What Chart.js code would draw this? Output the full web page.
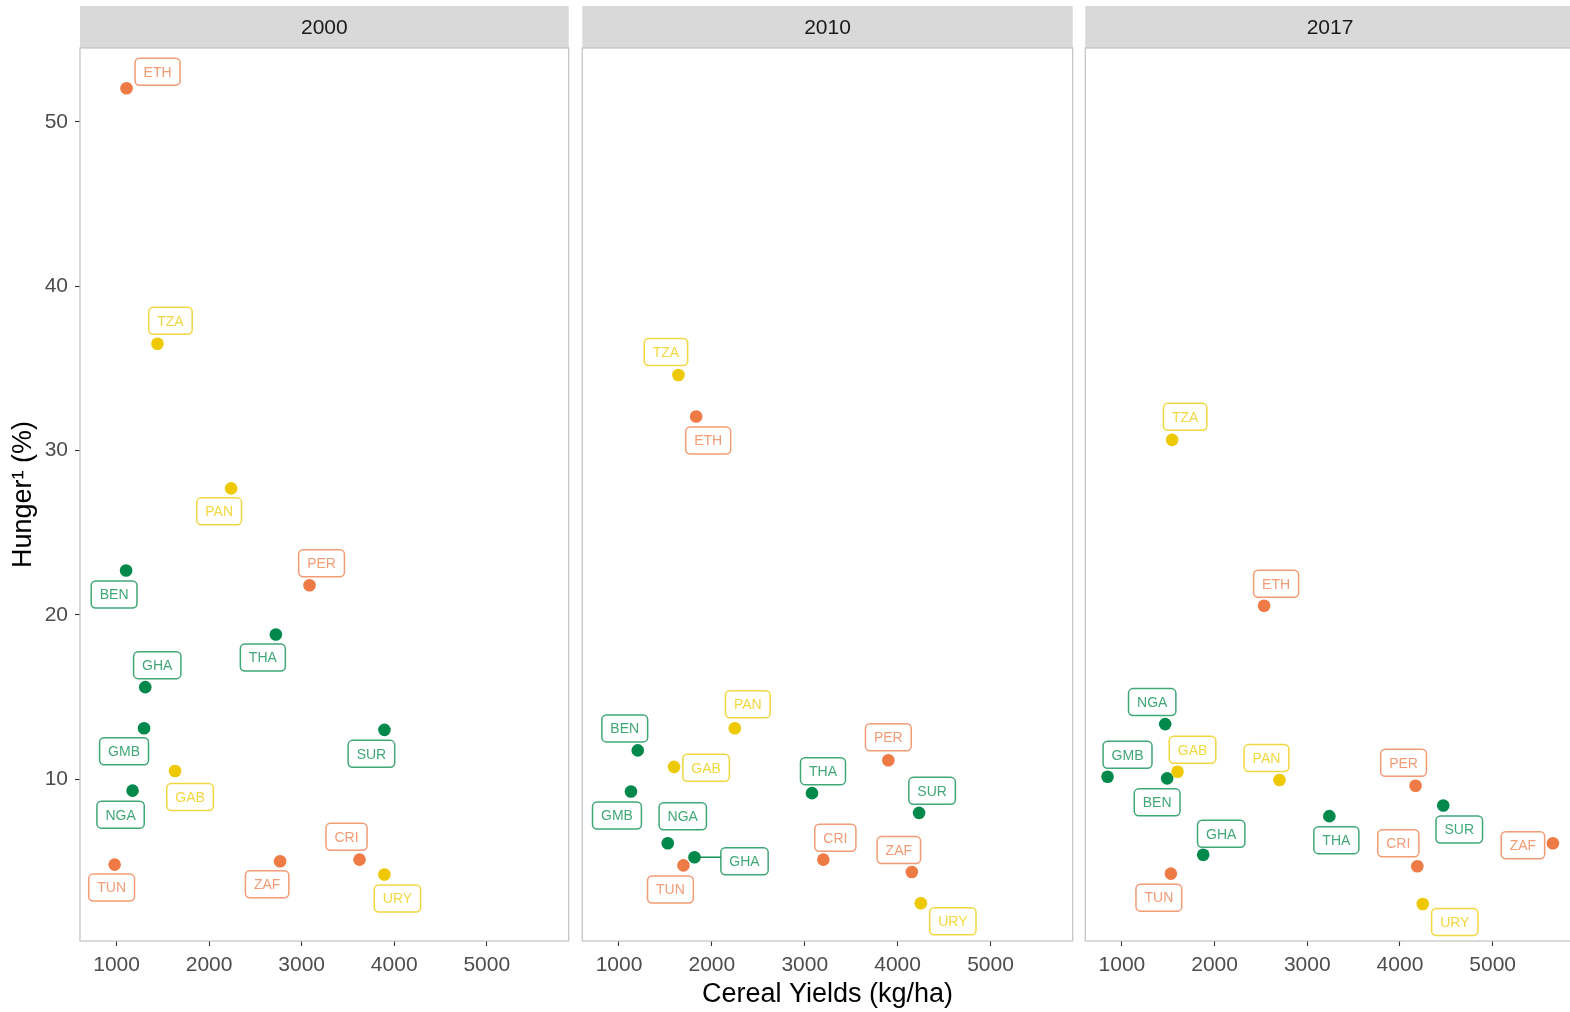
<!DOCTYPE html>
<html>
<head>
<meta charset="utf-8">
<script src="https://cdn.jsdelivr.net/npm/chart.js@4.4.1/dist/chart.umd.min.js"></script>
<style>
  html, body { margin: 0; padding: 0; background: #ffffff; width: 1570px; height: 1012px; overflow: hidden; position: relative; }
  canvas { position: absolute; top: 0; }
</style>
</head>
<body>
<canvas id="p2000" width="575" height="1012" style="left:0px"></canvas>
<canvas id="p2010" width="503" height="1012" style="left:576px"></canvas>
<canvas id="p2017" width="502" height="1012" style="left:1079px"></canvas>
<script>
// Countries and their colour group
const countries = ['ETH', 'TZA', 'PAN', 'BEN', 'PER', 'THA', 'GHA', 'GMB', 'SUR', 'GAB', 'NGA', 'TUN', 'ZAF', 'CRI', 'URY'];
const groupOf   = ['o',   'y',   'y',   'g',   'o',   'g',   'g',   'g',   'g',   'y',   'g',   'o',   'o',   'o',   'y'];

// Cereal yields (kg/ha) per year, same order as countries
const yield2000 = [1108, 1442, 2238, 1103, 3085, 2721, 1310, 1297, 3894, 1632, 1173, 979, 2767, 3625, 3894];
const yield2010 = [1831, 1640, 2247, 1202, 3900, 3078, 1813, 1129, 4231, 1593, 1525, 1694, 4153, 3200, 4250];
const yield2017 = [2534, 1542, 2700, 1488, 4168, 3238, 1877, 845, 4467, 1600, 1467, 1528, 5650, 4187, 4246];

// Hunger (%) per year, same order as countries
const hunger2000 = [52.05, 36.5, 27.7, 22.7, 21.8, 18.8, 15.6, 13.1, 13.0, 10.5, 9.3, 4.8, 5.0, 5.1, 4.2];
const hunger2010 = [32.07, 34.6, 13.1, 11.75, 11.15, 9.15, 5.25, 9.25, 7.95, 10.75, 6.1, 4.75, 4.35, 5.1, 2.45];
const hunger2017 = [20.55, 30.65, 9.95, 10.05, 9.6, 7.75, 5.4, 10.15, 8.4, 10.45, 13.35, 4.25, 6.1, 4.7, 2.4];

const years = ['2000', '2010', '2017'];
const xTicks = [1000, 2000, 3000, 4000, 5000];
const yTicks = [10, 20, 30, 40, 50];

// Label box placement (pixel offset of box centre from its point), per panel
const labelOffsets = {
  '2000': [[31,-16.5],[13,-23],[-12,23],[-12,24],[12,-22],[-13,23],[12,-22],[-20,23],[-13,24],[15,26],[-12,24],[-3,23],[-13,23],[-13,-23],[13,24]],
  '2010': [[12,24],[-12.5,-23],[13,-24],[-13,-22],[0,-23],[11,-22],[50,4],[-14,24],[13,-22],[32,1],[15,-27],[-13,24],[-13,-22],[12,-22],[32,18]],
  '2017': [[12,-22],[13,-23],[-13,-22],[-10,24],[-12,-23],[7,24],[18,-21],[20,-22],[16,24],[15,-22],[-13,-22],[-12,24],[-30,2],[-19,-23],[32,18]]
};

const pointColour = { o: '#EE7A45', g: '#00894A', y: '#EEC900' };
const labelColour = { o: 'rgba(238,122,69,0.75)', g: 'rgba(0,137,74,0.75)', y: 'rgba(238,201,0,0.75)' };
const FONT = '"Liberation Sans", Arial, Helvetica, sans-serif';

function roundRect(ctx, x, y, w, h, r) {
  ctx.beginPath();
  ctx.moveTo(x + r, y);
  ctx.lineTo(x + w - r, y);
  ctx.arcTo(x + w, y, x + w, y + r, r);
  ctx.lineTo(x + w, y + h - r);
  ctx.arcTo(x + w, y + h, x + w - r, y + h, r);
  ctx.lineTo(x + r, y + h);
  ctx.arcTo(x, y + h, x, y + h - r, r);
  ctx.lineTo(x, y + r);
  ctx.arcTo(x, y, x + r, y, r);
  ctx.closePath();
}

// Facet strip and panel frame
const panelDecor = {
  id: 'panelDecor',
  beforeDatasetsDraw(chart, args, opts) {
    const { ctx, chartArea: a } = chart;
    ctx.save();
    ctx.fillStyle = '#D9D9D9';
    ctx.fillRect(a.left, 6, a.right - a.left, a.top - 6);
    ctx.fillStyle = '#1A1A1A';
    ctx.font = '21px ' + FONT;
    ctx.textAlign = 'center';
    ctx.textBaseline = 'middle';
    ctx.fillText(opts.title, (a.left + a.right) / 2, (6 + a.top) / 2 + 1);
    ctx.strokeStyle = '#C6C6C6';
    ctx.lineWidth = 1.3;
    ctx.strokeRect(a.left, a.top, a.right - a.left, a.bottom - a.top);
    ctx.restore();
  }
};

// Country code labels in rounded boxes
const countryLabels = {
  id: 'countryLabels',
  afterDatasetsDraw(chart, args, opts) {
    const { ctx } = chart;
    const pts = chart.getDatasetMeta(0).data;
    const offs = labelOffsets[opts.year];
    ctx.save();
    ctx.font = '14px ' + FONT;
    pts.forEach((p, i) => {
      const g = groupOf[i];
      const txt = countries[i];
      const w = ctx.measureText(txt).width + 17;
      const h = 27;
      const cx = p.x + offs[i][0];
      const cy = p.y + offs[i][1];
      const bx = cx - w / 2, by = cy - h / 2;
      // leader segment when the box sits far from its point
      const nx = Math.max(bx, Math.min(p.x, bx + w));
      const ny = Math.max(by, Math.min(p.y, by + h));
      const d = Math.hypot(nx - p.x, ny - p.y);
      if (d > 15) {
        ctx.strokeStyle = pointColour[g];
        ctx.lineWidth = 1.4;
        ctx.beginPath();
        ctx.moveTo(p.x, p.y);
        ctx.lineTo(nx, ny);
        ctx.stroke();
      }
      roundRect(ctx, bx, by, w, h, 4.5);
      ctx.fillStyle = '#ffffff';
      ctx.fill();
      ctx.strokeStyle = labelColour[g];
      ctx.lineWidth = 1.5;
      ctx.stroke();
      ctx.fillStyle = labelColour[g];
      ctx.textAlign = 'center';
      ctx.textBaseline = 'middle';
      ctx.fillText(txt, cx, cy + 1);
    });
    ctx.restore();
  }
};

const tickFont = { family: FONT, size: 21 };
const gridStyle = { display: true, drawOnChartArea: false, drawTicks: true, tickLength: 5, tickColor: '#333333', tickWidth: 1.1 };

function makePanel(id, year, xs, ys, withYAxis, withXTitle) {
  const data = xs.map((x, i) => ({ x: x, y: ys[i] }));
  new Chart(document.getElementById(id), {
    type: 'scatter',
    data: {
      datasets: [{
        data: data,
        pointRadius: 6.3,
        pointHoverRadius: 6.3,
        pointBorderWidth: 0,
        pointBackgroundColor: groupOf.map(g => pointColour[g]),
        pointBorderColor: groupOf.map(g => pointColour[g])
      }]
    },
    options: {
      responsive: false,
      animation: false,
      events: [],
      layout: { padding: { top: 48, bottom: 0, left: withYAxis ? 0 : 6, right: 6 } },
      plugins: {
        legend: { display: false },
        tooltip: { enabled: false },
        panelDecor: { title: year },
        countryLabels: { year: year }
      },
      scales: {
        x: {
          type: 'linear',
          min: 605, max: 5885,
          afterBuildTicks: s => { s.ticks = xTicks.map(v => ({ value: v })); },
          afterFit: s => { s.height = 71; },
          ticks: { font: tickFont, color: '#4D4D4D', padding: 7, maxRotation: 0, callback: v => String(v) },
          grid: gridStyle,
          border: { display: false },
          title: {
            display: withXTitle,
            text: 'Cereal Yields (kg/ha)',
            color: '#000000',
            font: { family: FONT, size: 27 },
            padding: { top: 0, bottom: 1 }
          }
        },
        y: {
          type: 'linear',
          display: withYAxis,
          min: 0.15, max: 54.5,
          afterBuildTicks: s => { s.ticks = yTicks.map(v => ({ value: v })); },
          afterFit: s => { s.width = withYAxis ? 80 : 0; },
          ticks: { font: tickFont, color: '#4D4D4D', padding: 7, callback: v => String(v) },
          grid: gridStyle,
          border: { display: false },
          title: {
            display: true,
            text: 'Hunger\u00B9 (%)',
            color: '#000000',
            font: { family: FONT, size: 27 },
            padding: { top: 7, bottom: 0 }
          }
        }
      }
    },
    plugins: [panelDecor, countryLabels]
  });
}

makePanel('p2000', years[0], yield2000, hunger2000, true, false);
makePanel('p2010', years[1], yield2010, hunger2010, false, true);
makePanel('p2017', years[2], yield2017, hunger2017, false, false);
</script>
</body>
</html>
